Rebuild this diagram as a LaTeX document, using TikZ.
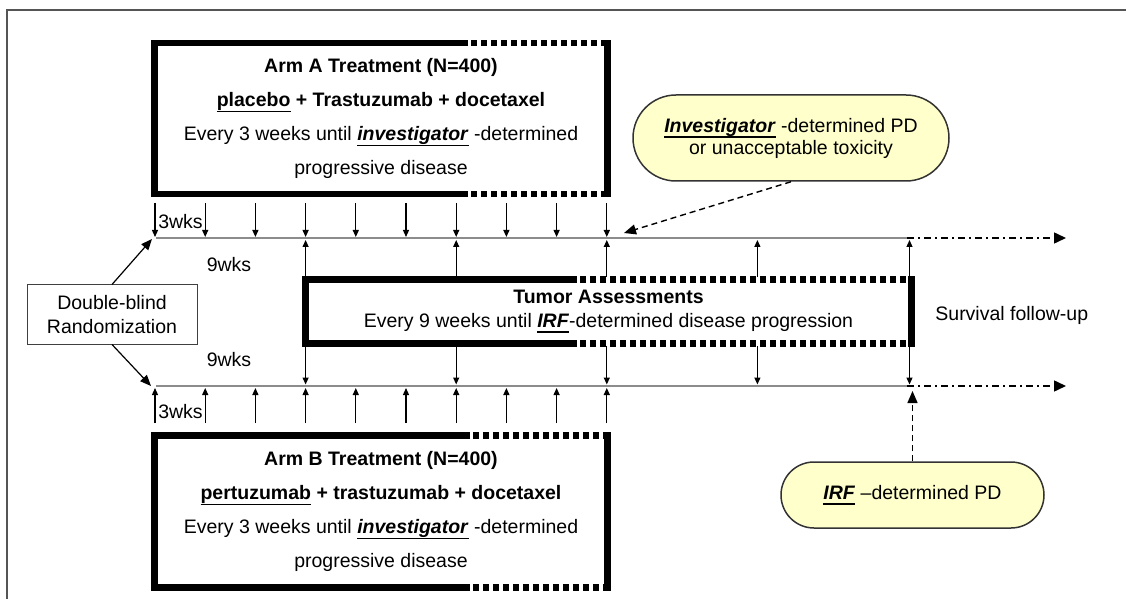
\documentclass[tikz,border=0pt]{standalone}
\usepackage{fontspec}
\setmainfont{Liberation Sans}
\usetikzlibrary{arrows.meta,shapes.misc,calc}
\definecolor{pdfill}{HTML}{FFFFCC}
\definecolor{axisgray}{HTML}{8C8C8C}
\definecolor{framegray}{HTML}{555555}
% underline set at a fixed depth below the baseline
\newsavebox\undlbox
\newcommand\undl[1]{\sbox\undlbox{#1}\rlap{\rule[-2.8pt]{\wd\undlbox}{0.8pt}}\usebox\undlbox}
\begin{document}
\begin{tikzpicture}[x=0.5pt,y=-0.5pt,
  every node/.style={font=\fontsize{9.75pt}{12pt}\selectfont, text=black, inner sep=0pt},
  armbox/.style={minimum width=226pt, align=center, font=\fontsize{9.75pt}{17pt}\selectfont},
  tumorbox/.style={minimum width=302.5pt, minimum height=31.5pt, align=center},
  solidedge/.style={line width=3.2pt, line join=miter},
  dotedge/.style={line width=3.2pt, dash pattern=on 3pt off 2pt},
  timeline/.style={draw=axisgray, line width=1pt},
  tailline/.style={line width=0.75pt, dash pattern=on 3.5pt off 2pt on 1pt off 2pt, -{Triangle[length=6pt,width=5.5pt]}},
  tickarrow/.style={line width=0.6pt, -{Triangle[length=3.5pt,width=3pt]}},
  tickboth/.style={line width=0.6pt, {Triangle[length=3.5pt,width=3pt]}-{Triangle[length=3.5pt,width=3pt]}},
  bigarrow/.style={line width=0.6pt, -{Triangle[length=5.5pt,width=4.5pt]}},
  pdarrow/.style={line width=0.7pt, dash pattern=on 3pt off 2pt, -{Triangle[length=6pt,width=5pt]}},
  pdnode/.style={rounded rectangle, draw=black!80, line width=0.75pt, fill=pdfill, align=center},
  randbox/.style={draw=black!75, line width=0.5pt, align=center, minimum width=85pt, minimum height=29.5pt}
]
\useasboundingbox (0,0) rectangle (1126,599);

% outer frame
\draw[framegray, line width=1pt] (1126,10) -- (7,10) -- (7,599);

% treatment boxes
\node[armbox, minimum height=75pt] (A) at (381,118.5) {%
  \textbf{Arm A Treatment (N=400)}\\
  \textbf{\undl{placebo} + Trastuzumab + docetaxel}\\
  Every 3 weeks until \undl{\textbf{\textit{investigator}}} -determined\\
  progressive disease};
\node[armbox, minimum height=75.5pt] (B) at (381,511.5) {%
  \textbf{Arm B Treatment (N=400)}\\
  \textbf{\undl{pertuzumab} + trastuzumab + docetaxel}\\
  Every 3 weeks until \undl{\textbf{\textit{investigator}}} -determined\\
  progressive disease};
\node[tumorbox] (T) at (608.5,311.5) {%
  \textbf{Tumor Assessments}\\
  Every 9 weeks until \undl{\textbf{\textit{IRF}}}-determined disease progression};
\node[randbox] (rand) at (112,314.5) {Double-blind\\Randomization};

% borders: solid part, then square dots
\coordinate (sA) at (468,0);
\coordinate (sB) at (470,0);
\coordinate (sT) at (577,0);
\foreach \bx/\sp in {A/sA, B/sB, T/sT} {
  \draw[solidedge] (\bx.north -| \sp) -- (\bx.north west) -- (\bx.south west) -- (\bx.south -| \sp);
  \draw[solidedge, line cap=rect] (\bx.north east) -- (\bx.south east);
  \draw[dotedge] ([xshift=1.5pt]\bx.north -| \sp) -- (\bx.north east);
  \draw[dotedge] ([xshift=1.5pt]\bx.south -| \sp) -- (\bx.south east);
}

% timelines
\coordinate (L1s) at (156,238);
\coordinate (L1e) at (907,238);
\coordinate (L1a) at (1066,238);
\coordinate (L2s) at (156,386);
\coordinate (L2e) at (907,386);
\coordinate (L2a) at (1066,386);
\draw[timeline] (L1s) -- (L1e);
\draw[timeline] (L2s) -- (L2e);
\draw[tailline] (L1e) -- (L1a);
\draw[tailline] (L2e) -- (L2a);

% randomization arrows
\coordinate (r1) at (152,239);
\coordinate (r2) at (151,386);
\draw[bigarrow] (rand.north) -- (r1);
\draw[bigarrow] (rand.south) -- (r2);

% dosing every 3 weeks
\foreach \k in {0,...,9} {
  \pgfmathsetmacro\xx{155+50.2*\k}
  \coordinate (ta\k) at (\xx,203);
  \coordinate (la\k) at (\xx,237);
  \coordinate (tb\k) at (\xx,423);
  \coordinate (lb\k) at (\xx,388);
  \draw[tickarrow] (ta\k) -- (la\k);
  \draw[tickarrow] (tb\k) -- (lb\k);
}

% tumor assessments every 9 weeks
\foreach \k in {3,6,9,12} {
  \pgfmathsetmacro\xx{155+50.2*\k}
  \coordinate (ua\k) at (\xx,277);
  \coordinate (va\k) at (\xx,240);
  \coordinate (da\k) at (\xx,346);
  \coordinate (wa\k) at (\xx,384.5);
  \draw[tickarrow] (ua\k) -- (va\k);
  \draw[tickarrow] (da\k) -- (wa\k);
}
\coordinate (fu1) at (909.5,240);
\coordinate (fu2) at (909.5,384.5);
\draw[tickboth] (fu1) -- (fu2);

% interval labels
\node (w3a) at (180.5,222) {3wks};
\node (w3b) at (180.5,412) {3wks};
\node (w9a) at (229,265) {9wks};
\node (w9b) at (229,360) {9wks};
\node[anchor=west] (surv) at (935,315) {Survival follow-up};

% progression events
\node[pdnode, minimum width=158pt, minimum height=43pt, font=\fontsize{9.75pt}{11pt}\selectfont] (e1) at (791,138) {%
  \undl{\textbf{\textit{Investigator}}} -determined PD\\
  or unacceptable toxicity};
\node[pdnode, minimum width=131.5pt, minimum height=33pt] (e2) at (912.5,495) {%
  \undl{\textbf{\textit{IRF}}} \textendash determined PD};
\coordinate (pd1) at (624,233);
\coordinate (pd2) at (912.5,391);
\draw[pdarrow] (e1.south) -- (pd1);
\draw[pdarrow] (e2.north) -- (pd2);
\end{tikzpicture}
\end{document}
